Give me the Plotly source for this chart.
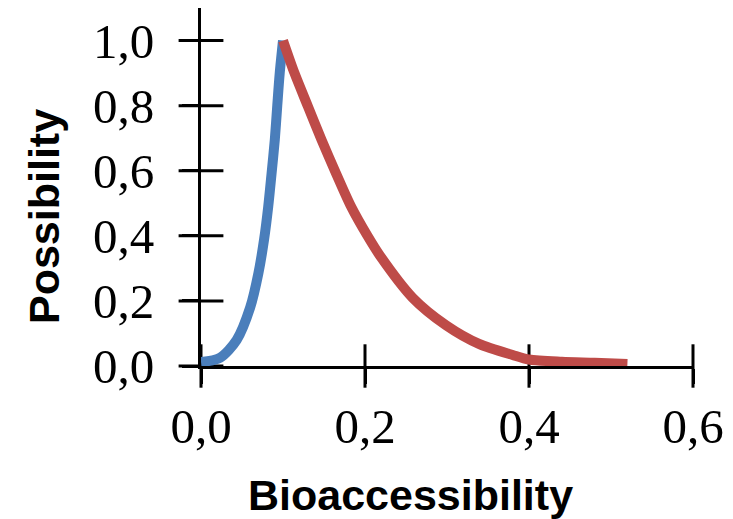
import plotly.graph_objects as go

# Rising branch (blue)
rise_x = [0.0, 0.023, 0.0435, 0.060, 0.070, 0.077, 0.082, 0.086, 0.090, 0.093, 0.096, 0.100]
rise_y = [0.012, 0.025, 0.08, 0.18, 0.285, 0.39, 0.49, 0.59, 0.695, 0.80, 0.90, 1.0]

# Falling branch (red)
fall_x = [0.100, 0.114, 0.130, 0.147, 0.165, 0.183, 0.203, 0.218, 0.258, 0.299, 0.339, 0.380, 0.400, 0.440, 0.480, 0.520]
fall_y = [1.0, 0.90, 0.80, 0.695, 0.59, 0.49, 0.40, 0.34, 0.21, 0.125, 0.068, 0.034, 0.02, 0.013, 0.01, 0.006]

x_ticks = [0.0, 0.2, 0.4, 0.6]
x_labels = ["0,0", "0,2", "0,4", "0,6"]
y_ticks = [0.0, 0.2, 0.4, 0.6, 0.8, 1.0]
y_labels = ["0,0", "0,2", "0,4", "0,6", "0,8", "1,0"]

fig = go.Figure()
# cross tick marks (both sides of the axis lines), built from the tick arrays
fig.add_trace(go.Scatter(x=[0.0] * len(y_ticks), y=y_ticks, mode="markers", cliponaxis=False,
                         marker=dict(symbol="line-ew", size=32, line=dict(color="black", width=3)),
                         showlegend=False, hoverinfo="skip"))
fig.add_trace(go.Scatter(x=x_ticks, y=[0.0] * len(x_ticks), mode="markers", cliponaxis=False,
                         marker=dict(symbol="line-ns", size=31, line=dict(color="black", width=3)),
                         showlegend=False, hoverinfo="skip"))
fig.add_trace(go.Scatter(x=rise_x, y=rise_y, mode="lines", cliponaxis=False,
                         line=dict(color="#4A7EBB", width=10, shape="spline", smoothing=0.8),
                         showlegend=False))
fig.add_trace(go.Scatter(x=fall_x, y=fall_y, mode="lines", cliponaxis=False,
                         line=dict(color="#BE4B48", width=10, shape="spline", smoothing=0.8),
                         showlegend=False))

tick_font = dict(family="Liberation Serif, Times New Roman, serif", size=49, color="black")
title_font = dict(family="Liberation Sans, Arial, sans-serif", size=43, color="black")

fig.update_layout(
    width=733, height=519,
    margin=dict(l=201, r=40, t=8, b=153),
    paper_bgcolor="white", plot_bgcolor="white",
    xaxis=dict(range=[0, 0.6], tickvals=x_ticks, ticktext=x_labels,
               showgrid=False, zeroline=False, showline=True, linecolor="black", linewidth=3,
               ticks="outside", ticklen=15, tickwidth=3, tickcolor="black",
               tickfont=tick_font),
    yaxis=dict(range=[0, 1.1], tickvals=y_ticks, ticktext=y_labels,
               showgrid=False, zeroline=False, showline=True, linecolor="black", linewidth=3,
               ticks="outside", ticklen=16, tickwidth=3, tickcolor="black",
               tickfont=tick_font, ticklabelstandoff=18),
    annotations=[
        dict(text="<b>Bioaccessibility</b>", font=title_font, xref="paper", yref="paper",
             x=(410 - 201) / 492, y=-(495 - 366) / 358, xanchor="center", yanchor="middle",
             showarrow=False),
        dict(text="<b>Possibility</b>", font=title_font, xref="paper", yref="paper",
             x=-(201 - 44) / 492, y=(366 - 217) / 358, xanchor="center", yanchor="middle",
             textangle=-90, showarrow=False),
    ],
)

fig.write_html("out.html")
